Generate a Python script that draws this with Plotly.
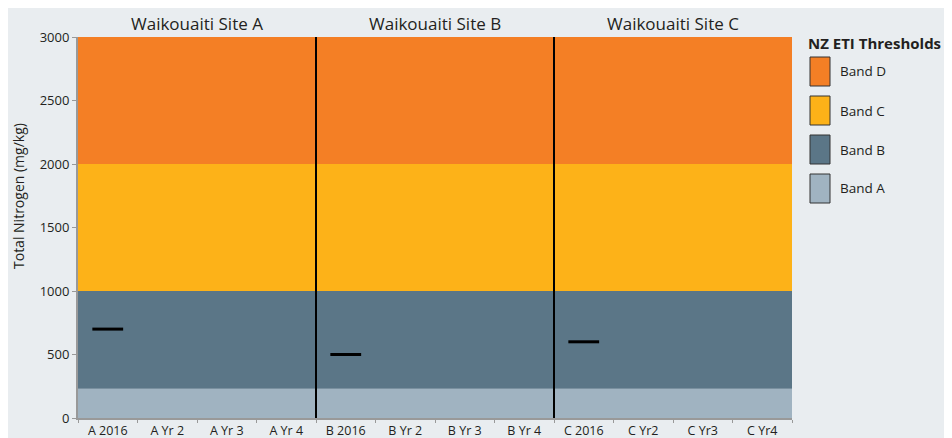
import plotly.graph_objects as go

categories = ["A 2016", "A Yr 2", "A Yr 3", "A Yr 4",
              "B 2016", "B Yr 2", "B Yr 3", "B Yr 4",
              "C 2016", "C Yr2", "C Yr3", "C Yr4"]
total_nitrogen = [700, None, None, None, 500, None, None, None, 600, None, None, None]
site_titles = ["Waikouaiti Site A", "Waikouaiti Site B", "Waikouaiti Site C"]
site_centers = [1.5, 5.5, 9.5]
site_dividers = [3.5, 7.5]
band_names = ["Band A", "Band B", "Band C", "Band D"]
band_bounds = [0, 230, 1000, 2000, 3000]
band_colors = ["#a0b3c1", "#5b7687", "#fdb218", "#f47f25"]

FONT = "Open Sans"
fig = go.Figure()

# the page body has an 8px margin, so the figure starts at (8, 8)
OFF = 8
W, H = 944, 430
ml, mr, mt, mb = 70, 160, 29, 20
pw, ph = W - ml - mr, H - mt - mb

def px_x(x):
    return (x - OFF - ml) / pw

def px_y(y):
    return (H - mb - (y - OFF)) / ph

# bands
for i, name in enumerate(band_names):
    fig.add_shape(type="rect", xref="x domain", yref="y", x0=0, x1=1,
                  y0=band_bounds[i], y1=band_bounds[i + 1],
                  fillcolor=band_colors[i], line_width=0, layer="below")

# dividers
for d in site_dividers:
    fig.add_shape(type="line", xref="x", yref="y", x0=d, x1=d, y0=0, y1=3000,
                  line=dict(color="black", width=2))

fig.add_trace(go.Scatter(x=categories, y=total_nitrogen, mode="markers",
                         marker=dict(symbol="line-ew", size=22,
                                     line=dict(color="black", width=3)),
                         showlegend=False, hoverinfo="x+y"))

for t, c in zip(site_titles, site_centers):
    fig.add_annotation(x=c, y=1, xref="x", yref="paper", yanchor="bottom",
                       text=t, showarrow=False, yshift=0,
                       font=dict(size=17, color="#231f20", family=FONT))

# y-axis title
fig.add_annotation(x=px_x(18), y=px_y(196), xref="paper", yref="paper",
                   text="Total Nitrogen (mg/kg)", textangle=-90, showarrow=False,
                   xanchor="center", yanchor="middle",
                   font=dict(size=14, color="#231f20", family=FONT))

# manual legend
fig.add_annotation(x=px_x(806), y=px_y(43), xref="paper", yref="paper",
                   text="<b>NZ ETI Thresholds</b>",
                   showarrow=False, xanchor="left", yanchor="middle",
                   font=dict(size=15, color="#231f20", family=FONT))

for k, idx in enumerate([3, 2, 1, 0]):
    top = 57 + 39 * k
    fig.add_shape(type="rect", xref="paper", yref="paper",
                  x0=px_x(810), x1=px_x(830), y0=px_y(top), y1=px_y(top + 29),
                  fillcolor=band_colors[idx], line=dict(color="#333333", width=1))
    fig.add_annotation(x=px_x(838), y=px_y(top + 14.5), xref="paper", yref="paper",
                       text=band_names[idx], showarrow=False, xanchor="left",
                       yanchor="middle", font=dict(size=13.5, color="#231f20", family=FONT))

fig.update_layout(
    width=W, height=H,
    margin=dict(l=ml, r=mr, t=mt, b=mb, autoexpand=False),
    paper_bgcolor="#e9edf0", plot_bgcolor="#e9edf0",
    font=dict(family=FONT, color="#231f20", size=13),
    xaxis=dict(type="category", categoryorder="array", categoryarray=categories,
               range=[-0.5, 11.5], tickson="boundaries", ticks="outside",
               ticklen=3, tickcolor="#999999", showline=True, linecolor="#999999",
               linewidth=2, showgrid=False, tickfont=dict(size=12.5), automargin=False),
    yaxis=dict(range=[0, 3000], tickvals=[0, 500, 1000, 1500, 2000, 2500, 3000],
               ticks="outside", ticklen=4, tickcolor="#999999", showline=True,
               linecolor="#999999", linewidth=2, showgrid=False, zeroline=False,
               tickfont=dict(size=13), automargin=False),
)

fig.write_html("out.html")
